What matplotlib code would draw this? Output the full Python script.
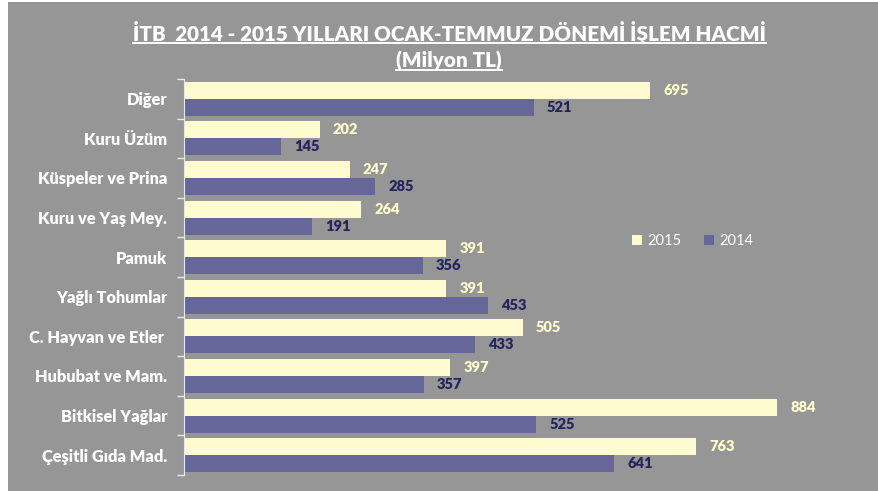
import matplotlib
matplotlib.use("Agg")
import matplotlib.pyplot as plt
from matplotlib.lines import Line2D
from matplotlib.patches import Rectangle

# data
categories = ["Diğer", "Kuru Üzüm", "Küspeler ve Prina", "Kuru ve Yaş Mey.",
              "Pamuk", "Yağlı Tohumlar", "C. Hayvan ve Etler ",
              "Hububat ve Mam.", "Bitkisel Yağlar", "Çeşitli Gıda Mad."]
vals_2015 = [695, 202, 247, 264, 391, 391, 505, 397, 884, 763]
vals_2014 = [521, 145, 285, 191, 356, 453, 433, 357, 525, 641]
series_names = ["2015", "2014"]

BG = "#969696"
C15 = "#FFFBD0"
C14 = "#666699"
LBL15 = "#FFFFCC"
LBL14 = "#25235E"
FONT = ["Lato", "DejaVu Sans"]


def main():
    plt.rcParams["font.family"] = FONT
    fig = plt.figure(figsize=(8.79, 4.91), dpi=100, facecolor="white")
    fig.add_artist(Rectangle((8 / 879, 0), 1, 1 - 2 / 491, transform=fig.transFigure,
                             facecolor=BG, edgecolor="none", zorder=0))

    ax = fig.add_axes([184 / 879, 16 / 491, 671 / 879, (475 - 79) / 491])
    ax.set_facecolor("none")

    n = len(categories)
    y = list(range(n))
    h = 0.43
    b15 = ax.barh([i - h / 2 for i in y], vals_2015, height=h, color=C15,
                  label=series_names[0])
    b14 = ax.barh([i + h / 2 for i in y], vals_2014, height=h, color=C14,
                  label=series_names[1])

    for i in y:
        ax.annotate(str(vals_2015[i]), (vals_2015[i], i - h / 2), xytext=(9.5, 0),
                    textcoords="offset points", va="center", ha="left",
                    color=LBL15, fontsize=10.5, fontweight="heavy")
        ax.annotate(str(vals_2014[i]), (vals_2014[i], i + h / 2), xytext=(9.5, 0),
                    textcoords="offset points", va="center", ha="left",
                    color=LBL14, fontsize=10.5, fontweight="heavy")

    ax.set_xlim(0, 1000)
    ax.set_ylim(n - 0.5, -0.5)
    ax.set_xticks([])
    ax.set_yticks(y)
    ax.set_yticklabels(categories, color="white", fontsize=11.8, fontweight="heavy")
    ax.set_yticks([i + 0.5 for i in range(-1, n)], minor=True)
    ax.tick_params(axis="y", which="major", length=0, pad=12)
    ax.tick_params(axis="y", which="minor", length=5, color="#E8E8E8", width=1)
    for s in ["top", "right", "bottom"]:
        ax.spines[s].set_visible(False)
    ax.spines["left"].set_color("#E8E8E8")

    fig.legend(handles=[b15, b14], loc="center", bbox_to_anchor=(0.788, 1 - 241 / 491),
               ncol=2, frameon=False, handlelength=0.7, handleheight=0.7,
               handletextpad=0.4, columnspacing=1.5, fontsize=10.5,
               labelcolor="white")

    t1 = fig.text(0.511, 1 - 33 / 491, "İTB  2014 - 2015 YILLARI OCAK-TEMMUZ DÖNEMİ İŞLEM HACMİ",
                  ha="center", va="center", color="white", fontsize=14.9, fontweight="heavy")
    t2 = fig.text(0.511, 1 - 61 / 491, "(Milyon TL)", ha="center", va="center",
                  color="white", fontsize=14.9, fontweight="heavy")

    # underline the title lines
    fig.canvas.draw()
    r = fig.canvas.get_renderer()
    for t in (t1, t2):
        bb = t.get_window_extent(r).transformed(fig.transFigure.inverted())
        yl = bb.y0 + 1.5 / 491
        fig.add_artist(Line2D([bb.x0, bb.x1], [yl, yl], color="white", lw=1.4,
                              transform=fig.transFigure))

    fig.savefig("out.png", dpi=100, facecolor="white")


if __name__ == "__main__":
    main()
